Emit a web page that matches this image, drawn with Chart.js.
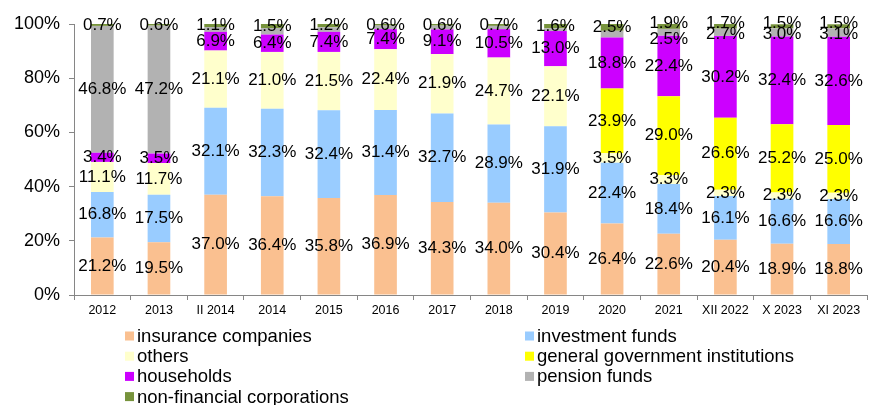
<!DOCTYPE html>
<html>
<head>
<meta charset="utf-8">
<script src="https://cdn.jsdelivr.net/npm/chart.js@4/dist/chart.umd.min.js"></script>
<style>
  html, body { margin: 0; padding: 0; background: #fff; }
  #wrap { width: 889px; height: 405px; position: relative; }
</style>
</head>
<body>
<div id="wrap"><canvas id="c" width="889" height="405"></canvas></div>
<script>
const categories = ['2012','2013','II 2014','2014','2015','2016','2017','2018','2019','2020','2021','XII 2022','X 2023','XI 2023'];
const insuranceCompanies = [21.2,19.5,37.0,36.4,35.8,36.9,34.3,34.0,30.4,26.4,22.6,20.4,18.9,18.8];
const investmentFunds    = [16.8,17.5,32.1,32.3,32.4,31.4,32.7,28.9,31.9,22.4,18.4,16.1,16.6,16.6];
const others             = [11.1,11.7,21.1,21.0,21.5,22.4,21.9,24.7,22.1,3.5,3.3,2.3,2.3,2.3];
const generalGovernment  = [0,0,0,0,0,0,0,0,0,23.9,29.0,26.6,25.2,25.0];
const households         = [3.4,3.5,6.9,6.4,7.4,7.4,9.1,10.5,13.0,18.8,22.4,30.2,32.4,32.6];
const pensionFunds       = [46.8,47.2,1.8,2.4,1.7,1.3,1.4,1.2,1.0,2.5,2.5,2.7,3.0,3.1];
const nonFinancialCorps  = [0.7,0.6,1.1,1.5,1.2,0.6,0.6,0.7,1.6,2.5,1.9,1.7,1.5,1.5];
const yTicks = [0,20,40,60,80,100];
// categories where the pension-fund label is not printed in the original
const unlabeledPension = ['II 2014','2014','2015','2016','2017','2018','2019','2020'];

const FONT = "'Liberation Sans', Arial, sans-serif";

const series = [
  {label:'insurance companies', data: insuranceCompanies, color:'#FAC090'},
  {label:'investment funds', data: investmentFunds, color:'#99CCFF'},
  {label:'others', data: others, color:'#FFFFCC'},
  {label:'general government institutions', data: generalGovernment, color:'#FFFF00'},
  {label:'households', data: households, color:'#CC00FF'},
  {label:'pension funds', data: pensionFunds, color:'#B2B2B2'},
  {label:'non-financial corporations', data: nonFinancialCorps, color:'#77933C'}
];

const labelPlugin = {
  id: 'segLabels',
  afterDatasetsDraw(chart) {
    const ctx = chart.ctx;
    ctx.save();
    ctx.font = '17px ' + FONT;
    ctx.fillStyle = '#000';
    ctx.textAlign = 'center';
    ctx.textBaseline = 'middle';
    chart.data.datasets.forEach((ds, di) => {
      const meta = chart.getDatasetMeta(di);
      meta.data.forEach((el, i) => {
        const v = ds.data[i];
        if (!v || v <= 0) return;
        const cat = categories[i];
        let dy = 0;
        if (ds.label === 'pension funds') {
          if (unlabeledPension.includes(cat)) return;
          if (v < 10) dy = (cat === '2021') ? 7 : 2;
        }
        if (ds.label === 'non-financial corporations' && i >= 10) dy = -3;
        const y = (el.y + el.base) / 2 + dy;
        ctx.fillText(v.toFixed(1) + '%', el.x, y);
      });
    });
    ctx.restore();
  }
};

const legendPlugin = {
  id: 'twoColLegend',
  afterDraw(chart) {
    const ctx = chart.ctx;
    ctx.save();
    ctx.font = '18.5px ' + FONT;
    ctx.textBaseline = 'middle';
    ctx.textAlign = 'left';
    const colX = [125, 525];
    const rowY0 = 336, rowH = 20.2, box = 9;
    chart.data.datasets.forEach((ds, i) => {
      const col = i % 2, row = Math.floor(i / 2);
      const x = colX[col], y = rowY0 + row * rowH;
      ctx.fillStyle = ds.backgroundColor;
      ctx.fillRect(x, y - box / 2, box, box);
      ctx.fillStyle = '#000';
      ctx.fillText(ds.label, x + 12, y + 1);
    });
    ctx.restore();
  }
};

new Chart(document.getElementById('c'), {
  type: 'bar',
  data: {
    labels: categories,
    datasets: series.map(s => ({
      label: s.label,
      data: s.data,
      backgroundColor: s.color,
      borderWidth: 0,
      categoryPercentage: 1,
      barPercentage: 0.4
    }))
  },
  options: {
    responsive: false,
    animation: false,
    devicePixelRatio: 1,
    layout: { padding: { left: 0, right: 22, top: 24, bottom: 90 } },
    plugins: { legend: { display: false }, tooltip: { enabled: false } },
    scales: {
      x: {
        stacked: true,
        grid: { display: true, drawOnChartArea: false, offset: true, tickLength: 5, color: '#868686' },
        border: { display: true, color: '#868686', width: 1 },
        ticks: { color: '#000', font: { family: FONT, size: 12.5 }, padding: 3, maxRotation: 0, autoSkip: false },
        afterFit(scale) { scale.height = 20; }
      },
      y: {
        stacked: true,
        min: 0, max: 100,
        afterBuildTicks(scale) { scale.ticks = yTicks.map(v => ({ value: v })); },
        grid: { display: true, drawOnChartArea: false, tickLength: 5, color: '#868686' },
        border: { display: true, color: '#868686', width: 1 },
        ticks: { color: '#000', font: { family: FONT, size: 18 }, padding: 9, callback: v => v + '%' },
        afterFit(scale) { scale.width = 74; }
      }
    }
  },
  plugins: [labelPlugin, legendPlugin]
});
</script>
</body>
</html>
